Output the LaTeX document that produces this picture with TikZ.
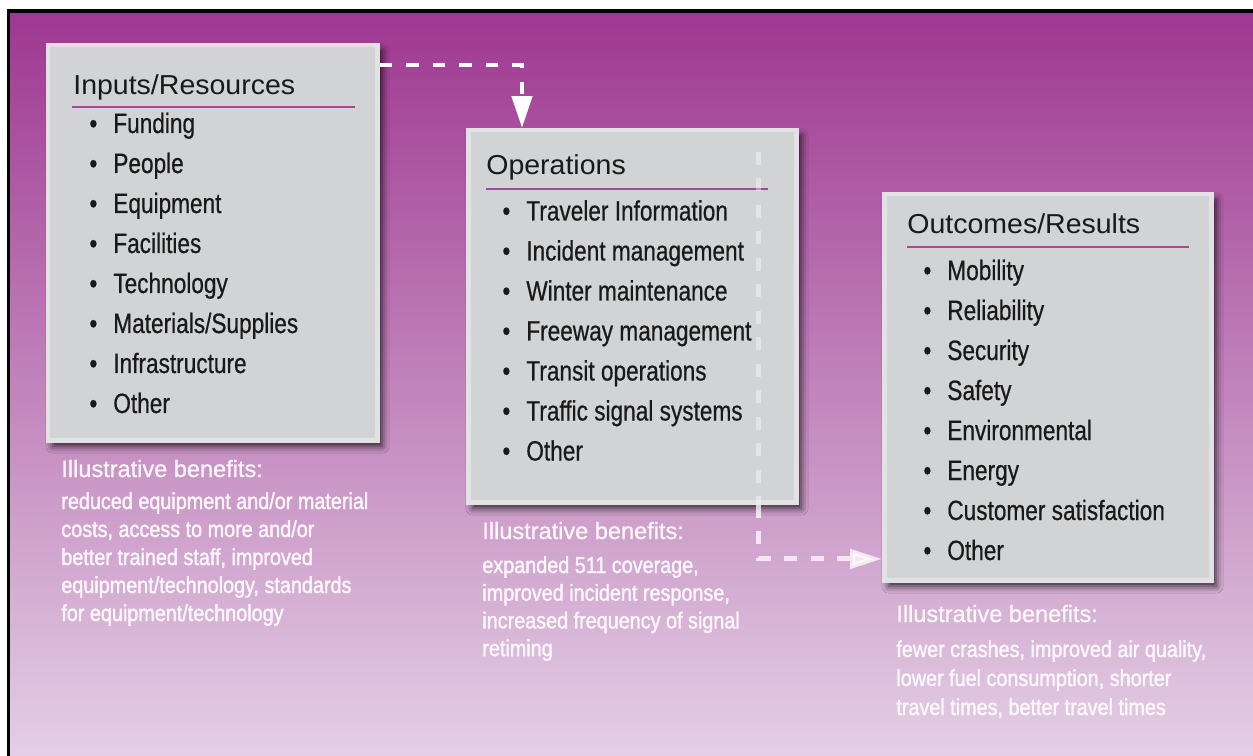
\documentclass[tikz,border=0pt]{standalone}
\usepackage{fontspec}
\setmainfont{Liberation Sans}
\newfontfamily\headfont[FakeStretch=1.04]{Liberation Sans}
\newfontfamily\condfont[FakeStretch=0.81,FakeBold=0.5]{Liberation Sans}
\newfontfamily\notefont[FakeStretch=0.86,FakeBold=1.6]{Liberation Sans}
\newfontfamily\noteheadfont[FakeBold=0.9]{Liberation Sans}
\usetikzlibrary{arrows.meta,shadows.blur,positioning}
\definecolor{bgtop}{HTML}{9E3790}
\definecolor{bgmid}{HTML}{B363A7}
\definecolor{bgbot}{HTML}{E4D0E6}
\definecolor{panelgray}{HTML}{D1D3D4}
\definecolor{panelrim}{HTML}{E1E2E3}
\definecolor{rulepurple}{HTML}{A5479D}
\definecolor{notewhite}{HTML}{FDF7FC}
\tikzset{panel/.style={rectangle,fill=panelgray,draw=panelrim,line width=.09cm,anchor=north west,
    blur shadow={shadow xshift=.09cm,shadow yshift=-.11cm,shadow blur radius=.14cm,shadow opacity=80}},
  heading/.style={anchor=base west,inner sep=0pt,font=\headfont\fontsize{15.6}{18}\selectfont,text=black!90},
  item/.style={anchor=base west,inner sep=0pt,font=\condfont\fontsize{15.9}{19}\selectfont,text=black!90},
  notehead/.style={anchor=base west,inner sep=0pt,font=\noteheadfont\fontsize{13.4}{16}\selectfont,text=notewhite},
  note/.style={anchor=base west,inner sep=0pt,font=\notefont\fontsize{13.1}{16}\selectfont,text=notewhite},
  underline/.style={rulepurple,line width=.035cm},
  flowa/.style={white,line width=.095cm,dash pattern=on .25cm off .28cm,-{Triangle[length=.64cm,width=.4cm]}},
  flowb/.style={white,line width=.1cm,dash pattern=on .26cm off .27cm,-{Triangle[length=.64cm,width=.38cm]}}}

\begin{document}
\begin{tikzpicture}[x=.02cm,y=-.02cm]
    \useasboundingbox (0,0) rectangle (1253,756);
    \fill[white] (-3,-3) rectangle (1256,759);
    \shade[top color=bgtop,middle color=bgmid,bottom color=bgbot] (8.6,10.7) rectangle (1256,759);
    \draw[black,line width=.076cm] (8.6,759) -- (8.6,10.7) -- (1256,10.7);

    \node (inp) [panel,minimum width=6.59cm,minimum height=7.91cm] at (46,43) {};
    \node (ops) [panel,minimum width=6.57cm,minimum height=7.45cm] at (466,128) {};
    \node (outc) [panel,minimum width=6.55cm,minimum height=7.73cm] at (882,192) {};

    \node (inp-t) [heading] at (73,95) {Inputs/Resources};
    \draw[underline] (72,107) -- (355,107);
    \foreach \t [count=\i] in {Funding,People,Equipment,Facilities,Technology,Materials/Supplies,Infrastructure,Other}
        \node (inp-\i) [item] at (113,{133+40*(\i-1)}) {\llap{\textbullet\hspace{.32cm}}\t};

    \node (ops-t) [heading] at (486,175) {Operations};
    \draw[underline] (486,189) -- (768,189);
    \foreach \t [count=\i] in {Traveler Information,Incident management,Winter maintenance,Freeway management,Transit operations,Traffic signal systems,Other}
        \node (ops-\i) [item] at (526,{220.5+40*(\i-1)}) {\llap{\textbullet\hspace{.32cm}}\t};

    \node (outc-t) [heading] at (907,234) {Outcomes/Results};
    \draw[underline] (907,247) -- (1189,247);
    \foreach \t [count=\i] in {Mobility,Reliability,Security,Safety,Environmental,Energy,Customer satisfaction,Other}
        \node (outc-\i) [item] at (947,{280+40*(\i-1)}) {\llap{\textbullet\hspace{.32cm}}\t};

    \node (inp-h) [notehead] at (61,477) {Illustrative benefits:};
    \foreach \t [count=\i] in {{reduced equipment and/or material},{costs, access to more and/or},{better trained staff, improved},{equipment/technology, standards},{for equipment/technology}}
        \node (inp-n\i) [note] at (61,{509+28*(\i-1)}) {\t};

    \node (ops-h) [notehead] at (482,539) {Illustrative benefits:};
    \foreach \t [count=\i] in {{expanded 511 coverage,},{improved incident response,},{increased frequency of signal},{retiming}}
        \node (ops-n\i) [note] at (482,{573+27.7*(\i-1)}) {\t};

    \node (outc-h) [notehead] at (896,622) {Illustrative benefits:};
    \foreach \t [count=\i] in {{fewer crashes, improved air quality,},{lower fuel consumption, shorter},{travel times, better travel times}}
        \node (outc-n\i) [note] at (896,{657+29*(\i-1)}) {\t};

    \draw[flowa] ([yshift=-.44cm]inp.north east) -| ([xshift=-2.21cm]ops.north);
    \coordinate (turn) at ([xshift=-.8cm,yshift=-.48cm]ops.north east);
    \coordinate (turnb) at (turn |- ops.south);
    \draw[white,line width=.1cm,dash pattern=on .26cm off .27cm,opacity=.4] (turn) -- (turnb);
    \draw[flowb,opacity=.75] (turnb) |- ([yshift=-3.43cm]outc.west);
\end{tikzpicture}
\end{document}
